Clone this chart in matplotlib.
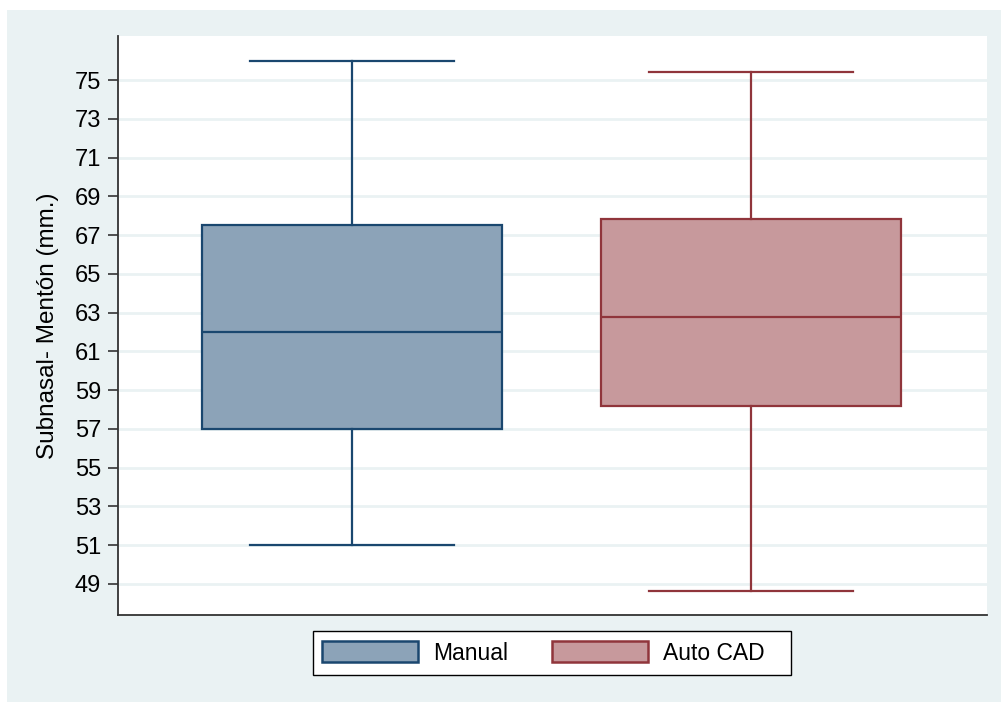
import matplotlib
matplotlib.use("Agg")
import matplotlib.pyplot as plt
from matplotlib.patches import Patch, Rectangle

plt.rcParams['font.family'] = ['Liberation Sans', 'DejaVu Sans']

# Summary statistics per measurement method (mm)
groups = ["Manual", "Auto CAD"]
whislo = [51.0, 48.65]
q1 = [57.0, 58.2]
median = [62.0, 62.75]
q3 = [67.5, 67.85]
whishi = [76.0, 75.4]

yticks = [49, 51, 53, 55, 57, 59, 61, 63, 65, 67, 69, 71, 73, 75]
ylabel = "Subnasal- Mentón (mm.)"

edge_colors = ["#1A476F", "#90353B"]
fill_colors = ["#8CA3B8", "#C7999C"]
bg = "#EAF2F3"

W, H = 1001, 702
fig = plt.figure(figsize=(W / 100, H / 100), dpi=100)
fig.patch.set_facecolor("white")
fig.add_artist(Rectangle((7 / W, 0), 1 - 7 / W, 1 - 10 / H,
                         transform=fig.transFigure, facecolor=bg,
                         edgecolor="none", zorder=-10))

ax = fig.add_axes([118 / W, 1 - 615 / H, (987 - 118) / W, (615 - 36) / H])
ax.set_facecolor("white")

stats = []
for i, g in enumerate(groups):
    stats.append(dict(label=g, whislo=whislo[i], q1=q1[i], med=median[i],
                      q3=q3[i], whishi=whishi[i], fliers=[]))

positions = [1, 2]
for i in range(len(groups)):
    ax.bxp([stats[i]], positions=[positions[i]], widths=0.752, capwidths=0.509,
           patch_artist=True, showfliers=False,
           boxprops=dict(facecolor=fill_colors[i], edgecolor=edge_colors[i], linewidth=1.6),
           medianprops=dict(color=edge_colors[i], linewidth=1.6),
           whiskerprops=dict(color=edge_colors[i], linewidth=1.6),
           capprops=dict(color=edge_colors[i], linewidth=1.6),
           zorder=3)

ax.set_xlim(0.4135, 2.5915)
ax.set_ylim(47.4, 77.27)
ax.set_xticks([])
ax.set_yticks(yticks)
ax.set_yticklabels([str(t) for t in yticks], fontsize=17)
ax.yaxis.grid(True, color=bg, linewidth=2.0, zorder=0)
ax.set_axisbelow(True)
ax.tick_params(axis="y", direction="out", length=7.2, width=1.2, color="#333333", pad=5)
ax.tick_params(axis="x", length=0)

for side in ("top", "right"):
    ax.spines[side].set_visible(False)
for side in ("left", "bottom"):
    ax.spines[side].set_color("#333333")
    ax.spines[side].set_linewidth(1.3)

ax.set_ylabel(ylabel, fontsize=17.5, labelpad=11)

# Legend box with a roomy right margin
fig.add_artist(Rectangle((313 / W, 1 - 675 / H), (791 - 313) / W, (675 - 631) / H,
                         transform=fig.transFigure, facecolor="white",
                         edgecolor="black", linewidth=1.0, zorder=5))

handles = [Patch(facecolor=fill_colors[i], edgecolor=edge_colors[i], linewidth=1.8, label=g)
           for i, g in enumerate(groups)]
leg = fig.legend(handles=handles, loc="center left", bbox_to_anchor=(322 / W, 1 - 653 / H),
                 ncol=2, fontsize=16.5, frameon=False,
                 handlelength=4.2, handleheight=1.0, handletextpad=0.65,
                 columnspacing=1.9, borderpad=0, borderaxespad=0)
leg.set_zorder(6)

fig.savefig("out.png", dpi=100, facecolor=fig.get_facecolor())
